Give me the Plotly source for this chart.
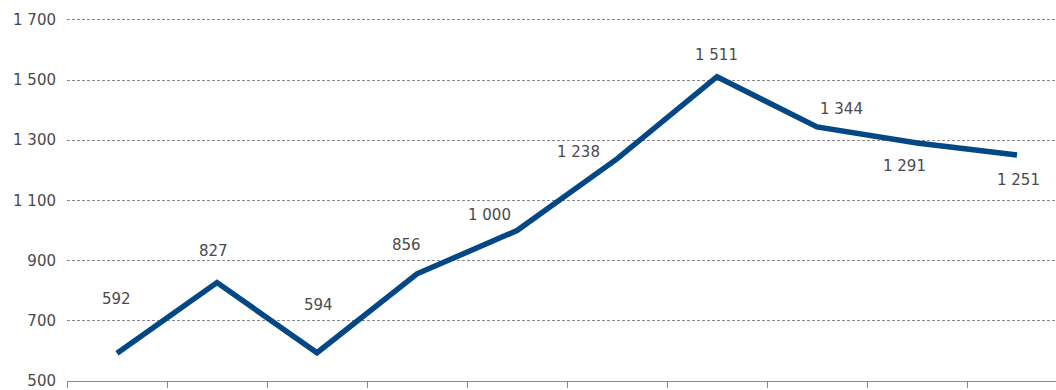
import plotly.graph_objects as go

categories = ["1", "2", "3", "4", "5", "6", "7", "8", "9", "10"]
values = [592, 827, 594, 856, 1000, 1238, 1511, 1344, 1291, 1251]
y_ticks = [500, 700, 900, 1100, 1300, 1500, 1700]
y_tick_labels = ["500", "700", "900", "1 100", "1 300", "1 500", "1 700"]

# label offsets in pixels (dx, dy up)
label_dx = [-1, -4, 1, -11, -28, -39, -1, 24, -13, 1]
label_dy = [54, 32, 48, 29, 16, 7, 22, 18, -23, -25]

def fmt(v):
    return f"{v:,}".replace(",", " ")

xs = list(range(len(categories)))

fig = go.Figure()
fig.add_trace(go.Scatter(
    x=xs, y=values, mode="lines",
    line=dict(color="#044785", width=5.5),
    hoverinfo="skip", showlegend=False,
))

font = dict(family="DejaVu Sans", size=15, color="#4a4a4a")

for i, v in enumerate(values):
    fig.add_annotation(
        x=xs[i], y=v, text=fmt(v), showarrow=False,
        xshift=label_dx[i], yshift=label_dy[i], font=font,
    )

fig.update_layout(
    width=1056, height=390,
    margin=dict(l=67, r=0, t=18, b=4),
    paper_bgcolor="white", plot_bgcolor="white",
    showlegend=False,
)
fig.update_xaxes(
    range=[-0.5, 9.39],
    tickmode="array", tickvals=[i - 0.5 for i in range(len(categories))],
    showticklabels=False,
    ticks="outside", ticklen=6, tickcolor="#888888", tickwidth=1,
    showline=True, linecolor="#888888", linewidth=1,
    showgrid=False, zeroline=False,
)
fig.update_yaxes(
    range=[500, 1706],
    tickmode="array", tickvals=y_ticks, ticktext=y_tick_labels,
    tickfont=font, ticklabelstandoff=10, ticklabeloverflow="allow",
    showgrid=True, gridcolor="#888888", gridwidth=1, griddash="3px,2px",
    showline=False, zeroline=False,
)

fig.write_html("out.html")
